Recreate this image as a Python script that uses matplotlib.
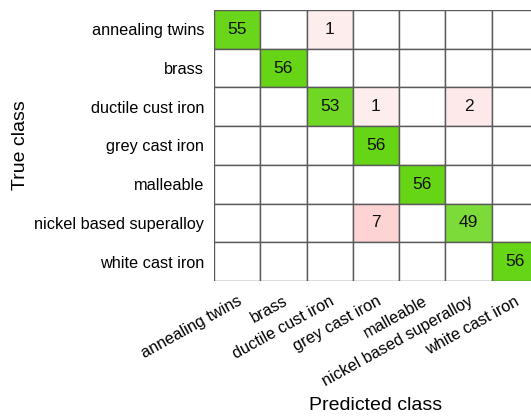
import numpy as np
import matplotlib.pyplot as plt
from matplotlib.colors import to_rgb

plt.rcParams['font.family'] = ['Liberation Sans', 'DejaVu Sans']

classes = ['annealing twins', 'brass', 'ductile cust iron', 'grey cast iron',
           'malleable', 'nickel based superalloy', 'white cast iron']

cm = np.array([
    [55, 0, 1, 0, 0, 0, 0],
    [0, 56, 0, 0, 0, 0, 0],
    [0, 0, 53, 1, 0, 2, 0],
    [0, 0, 0, 56, 0, 0, 0],
    [0, 0, 0, 0, 56, 0, 0],
    [0, 0, 0, 7, 0, 49, 0],
    [0, 0, 0, 0, 0, 0, 56],
])

n = len(classes)
green = np.array(to_rgb('#66d516'))
pink = np.array(to_rgb('#fdeded'))
pink_dark = np.array(to_rgb('#fdd3d3'))
white = np.ones(3)

colors = np.ones((n, n, 3))
for i in range(n):
    for j in range(n):
        v = cm[i, j]
        if v == 0:
            continue
        if i == j:
            t = 0.85 + 0.15 * (v - 49) / 7
            colors[i, j] = white + (green - white) * t
        else:
            t = (v - 1) / 6
            colors[i, j] = pink + (pink_dark - pink) * t

fig = plt.figure(figsize=(5.31, 4.17), dpi=100)
ax = fig.add_axes([214 / 531, 136 / 417, 324 / 531, 271 / 417])

for i in range(n):
    for j in range(n):
        ax.add_patch(plt.Rectangle((j - 0.5, i - 0.5), 1, 1,
                                   facecolor=colors[i, j],
                                   edgecolor='#5a5a5a', linewidth=1))
        if cm[i, j] > 0:
            ax.text(j, i, str(cm[i, j]), ha='center', va='center',
                    fontsize=12.5, color='#111111')

ax.set_xlim(-0.5, n - 0.5)
ax.set_ylim(n - 0.5, -0.5)
ax.set_xticks(range(n))
ax.set_yticks(range(n))
ax.set_xticklabels(classes, rotation=29, ha='right', rotation_mode='anchor',
                   fontsize=11.7)
ax.set_yticklabels(classes, fontsize=11.7)
ax.tick_params(axis='y', length=0, pad=7)
ax.tick_params(axis='x', length=0, pad=9)
for s in ax.spines.values():
    s.set_visible(False)

ax.set_xlabel('Predicted class', fontsize=14, labelpad=6)
ax.set_ylabel('True class', fontsize=14, labelpad=4)

fig.savefig('out.png', dpi=100)
